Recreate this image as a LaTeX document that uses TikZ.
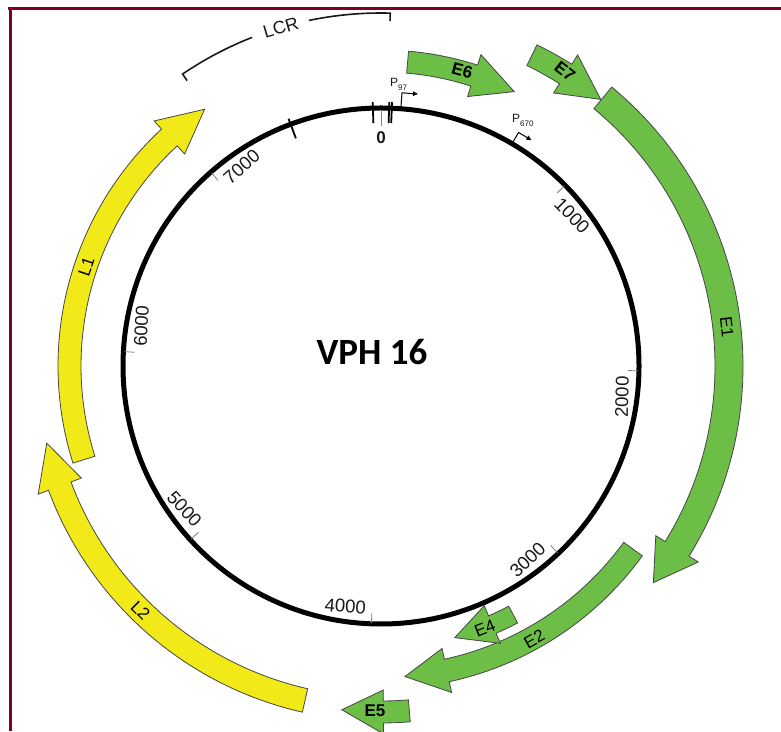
\documentclass[tikz,border=0pt]{standalone}
\usepackage{fontspec}
\setmainfont{Liberation Sans}
\newfontfamily\vphfont{Carlito}
\usetikzlibrary{arrows.meta,calc}

\definecolor{genegreen}{RGB}{108,190,71}
\definecolor{geneyellow}{RGB}{242,234,24}
\definecolor{framered}{RGB}{128,0,32}
\definecolor{edgegray}{RGB}{70,70,70}
\definecolor{labelgray}{RGB}{25,25,25}

% gene arrow: #1 start angle, #2 head base angle, #3 tip angle,
% #4 inner radius, #5 outer radius, #6 fill colour
\newcommand{\genearrow}[6]{%
  \draw[genebody, fill=#6] (#1:#5) arc[start angle=#1, end angle=#2, radius=#5]
    -- ({#2}:{#5+11}) -- ({#3}:{(#4+#5)/2}) -- ({#2}:{#4-11}) -- ({#2}:{#4})
    arc[start angle=#2, end angle=#1, radius=#4] -- cycle;}

\tikzset{
  genebody/.style={draw=edgegray, line width=0.8pt, line join=miter},
  genelab/.style={font=\fontsize{17}{17}\selectfont, text=black, inner sep=0pt},
  boldlab/.style={genelab, font=\fontsize{17}{17}\selectfont\bfseries},
  ticklab/.style={font=\fontsize{18.5}{18.5}\selectfont, text=labelgray, inner sep=0pt},
  tickmark/.style={draw=gray, line width=0.8pt},
  sitemark/.style={draw=black, line width=1.8pt},
  bracket/.style={draw=labelgray, line width=1.6pt},
  promoter/.style={draw=black, line width=1pt, -{Triangle[length=5pt,width=4.5pt]}},
  promlab/.style={font=\fontsize{12}{12}\selectfont, text=labelgray, inner sep=0pt, anchor=base west},
}

\begin{document}
\begin{tikzpicture}[x=1pt, y=1pt]
\useasboundingbox (0,0) rectangle (781,731);
\fill[white] (0,0) rectangle (781,731);

% frame lines along the top and the left
\draw[framered, line width=3pt] (8,722) -- (781,722);
\draw[framered, line width=3pt] (10.5,723.5) -- (10.5,0);

\begin{scope}[shift={(381,365)}]
  % genome circle
  \draw[line width=5pt] (0,0) circle[radius=258];

  % early genes (green)
  \genearrow{85}{72.2}{64.1}{294}{316}{genegreen}
  \genearrow{64.1}{57.7}{50.5}{334}{357}{genegreen}
  \genearrow{50.4}{-31.7}{-38.5}{334}{362}{genegreen}
  \genearrow{-36}{-77.8}{-85.6}{300}{323}{genegreen}
  \genearrow{-62}{-66.7}{-74.8}{272}{291}{genegreen}
  \genearrow{-85.3}{-89.6}{-96.5}{335}{357}{genegreen}
  % late genes (yellow)
  \genearrow{-102.8}{-159.5}{-167}{331}{355}{geneyellow}
  \genearrow{-162.5}{-227.2}{-235.5}{300}{323}{geneyellow}

  % gene names
  \node[boldlab, rotate=-15.4] (lE6) at (74.6:306) {E6};
  \node[boldlab, rotate=-38] (lE7) at (58:347) {E7};
  \node[genelab, rotate=-83.6] (lE1) at (6.4:348) {E1};
  \node[genelab, rotate=29.3] (lE2) at (-60.7:313) {E2};
  \node[genelab, rotate=21.6] (lE4) at (-68.4:282) {E4};
  \node[boldlab, rotate=0] (lE5) at (-91:345) {E5};
  \node[genelab, rotate=-44.5] (lL2) at (-134.5:343) {L2};
  \node[genelab, rotate=71.4] (lL1) at (161.4:311) {L1};

  % scale ticks every 1000 bp (7906 bp genome)
  \foreach \p/\rot in {1000/-45.5, 2000/88.9, 3000/43.4, 4000/-4, 5000/-47.7, 6000/86.8, 7000/41.3}{
    \pgfmathsetmacro{\th}{90-0.0455350*\p}
    \draw[tickmark] (\th:247) -- (\th:257);
    \node[ticklab, rotate=\rot] (t\p) at ({\th-6.3}:243) {\p};
  }
  % origin
  \draw[tickmark] (90:256) -- (90:240);
  \node[font=\fontsize{17}{17}\selectfont\bfseries, text=labelgray, inner sep=0pt] (t0) at (90:228) {0};

  % marks across the circle
  \foreach \a in {91.8, 88.2, 87.6, 110.5}{
    \draw[sitemark] (\a:243) -- (\a:264);
  }

  % promoters
  \draw[promoter] (85.6:257) -- (85.6:274) -- ($(85.6:274)+(-4.4:16)$);
  \node[promlab] (p97) at (9,279) {P\raisebox{-3.5pt}{\fontsize{8}{8}\selectfont 97}};
  \draw[promoter] (59.5:257) -- (59.5:271) -- ($(59.5:271)+(-30.5:15)$);
  \node[promlab] (p670) at (131,243) {P\raisebox{-3.5pt}{\fontsize{8}{8}\selectfont 670}};

  % long control region bracket
  \draw[bracket] (88.5:345) -- (88.5:353) arc[start angle=88.5, end angle=101.8, radius=353];
  \draw[bracket] (111.4:353) arc[start angle=111.4, end angle=124.2, radius=353] -- (124.2:345);
  \node[ticklab, font=\fontsize{18}{18}\selectfont, rotate=16.5] (lcr) at (106.5:353) {LCR};

  % title
  \node[font=\vphfont\fontsize{37}{37}\selectfont\bfseries, inner sep=0pt] (title) at (-9,14) {VPH 16};
\end{scope}
\end{tikzpicture}
\end{document}
